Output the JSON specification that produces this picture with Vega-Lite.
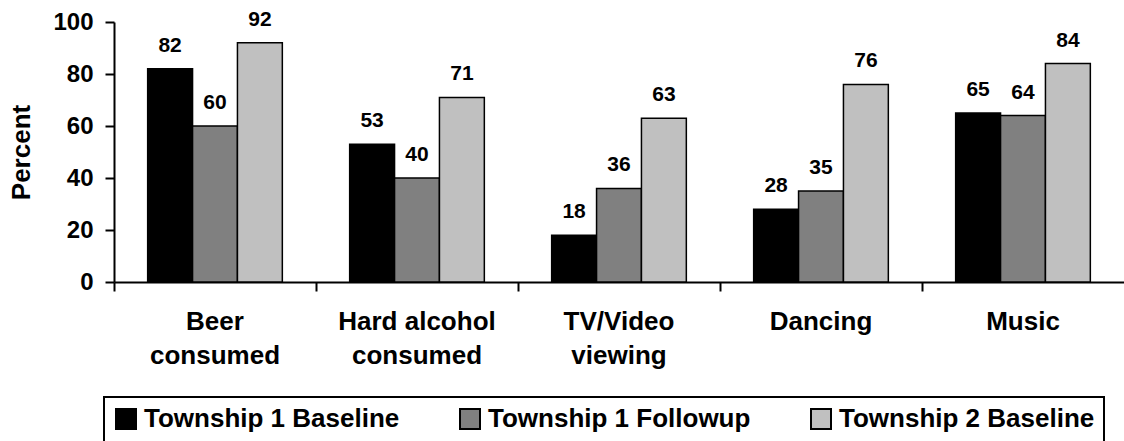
{
  "$schema": "https://vega.github.io/schema/vega-lite/v6.json",
  "width": 1010,
  "height": 260,
  "autosize": {"type": "none"},
  "padding": {"left": 114, "top": 22, "right": 0, "bottom": 159},
  "background": "white",
  "config": {"font": "Liberation Sans", "view": {"stroke": null}},
  "data": {
    "values": [
      {"activity": "Beer consumed", "group": "Township 1 Baseline", "percent": 82},
      {"activity": "Beer consumed", "group": "Township 1 Followup", "percent": 60},
      {"activity": "Beer consumed", "group": "Township 2 Baseline", "percent": 92},
      {"activity": "Hard alcohol consumed", "group": "Township 1 Baseline", "percent": 53},
      {"activity": "Hard alcohol consumed", "group": "Township 1 Followup", "percent": 40},
      {"activity": "Hard alcohol consumed", "group": "Township 2 Baseline", "percent": 71},
      {"activity": "TV/Video viewing", "group": "Township 1 Baseline", "percent": 18},
      {"activity": "TV/Video viewing", "group": "Township 1 Followup", "percent": 36},
      {"activity": "TV/Video viewing", "group": "Township 2 Baseline", "percent": 63},
      {"activity": "Dancing", "group": "Township 1 Baseline", "percent": 28},
      {"activity": "Dancing", "group": "Township 1 Followup", "percent": 35},
      {"activity": "Dancing", "group": "Township 2 Baseline", "percent": 76},
      {"activity": "Music", "group": "Township 1 Baseline", "percent": 65},
      {"activity": "Music", "group": "Township 1 Followup", "percent": 64},
      {"activity": "Music", "group": "Township 2 Baseline", "percent": 84}
    ]
  },
  "encoding": {
    "x": {
      "field": "activity",
      "type": "nominal",
      "sort": null,
      "scale": {"paddingInner": 0, "paddingOuter": 0},
      "axis": {
        "title": null,
        "bandPosition": 0,
        "labelAngle": 0,
        "labelFont": "Liberation Sans",
        "labelFontSize": 26,
        "labelFontWeight": "bold",
        "labelColor": "black",
        "labelLineHeight": 34,
        "labelPadding": 17,
        "labelLimit": 400,
        "labelExpr": "indexof(datum.value, ' ') < 0 ? datum.value : [slice(datum.value, 0, lastindexof(datum.value, ' ')), slice(datum.value, lastindexof(datum.value, ' ') + 1)]",
        "tickSize": 9,
        "tickWidth": 2,
        "tickColor": "black",
        "domainColor": "black",
        "domainWidth": 2,
        "grid": false
      }
    },
    "xOffset": {
      "field": "group",
      "type": "nominal",
      "sort": null,
      "scale": {"paddingInner": 0, "paddingOuter": 0.75}
    },
    "y": {
      "field": "percent",
      "type": "quantitative",
      "scale": {"domain": [0, 100], "nice": false},
      "axis": {
        "title": "Percent",
        "titleFont": "Liberation Sans",
        "titleFontSize": 26,
        "titleFontWeight": "bold",
        "titleColor": "black",
        "titlePadding": 18,
        "values": [0, 20, 40, 60, 80, 100],
        "labelFont": "Liberation Sans",
        "labelFontSize": 24,
        "labelFontWeight": "bold",
        "labelColor": "black",
        "labelPadding": 12,
        "tickSize": 9,
        "tickWidth": 2,
        "tickColor": "black",
        "domainColor": "black",
        "domainWidth": 2,
        "grid": false
      }
    }
  },
  "layer": [
    {
      "mark": {"type": "bar", "stroke": "black", "strokeWidth": 1.5},
      "encoding": {
        "color": {
          "field": "group",
          "type": "nominal",
          "scale": {
            "domain": ["Township 1 Baseline", "Township 1 Followup", "Township 2 Baseline"],
            "range": ["#000000", "#808080", "#c0c0c0"]
          },
          "legend": {
            "orient": "none",
            "legendX": -10,
            "legendY": 375,
            "direction": "horizontal",
            "columns": 3,
            "title": "\u00a0",
            "titleOrient": "bottom",
            "titleFontSize": 20,
            "titlePadding": 0,
            "symbolType": "square",
            "symbolSize": 400,
            "symbolStrokeColor": "black",
            "symbolStrokeWidth": 2,
            "symbolOpacity": 1,
            "labelFont": "Liberation Sans",
            "labelFontSize": 26,
            "labelFontWeight": "bold",
            "labelColor": "black",
            "labelOffset": 5,
            "labelLimit": 600,
            "columnPadding": 56,
            "padding": 9,
            "strokeColor": "black",
            "encode": {"legend": {"update": {"strokeWidth": {"value": 2}}}}
          }
        }
      }
    },
    {
      "mark": {
        "type": "text",
        "font": "Liberation Sans",
        "fontSize": 21,
        "fontWeight": "bold",
        "color": "black",
        "baseline": "alphabetic",
        "dy": -17
      },
      "encoding": {
        "text": {"field": "percent", "type": "quantitative"}
      }
    }
  ]
}
